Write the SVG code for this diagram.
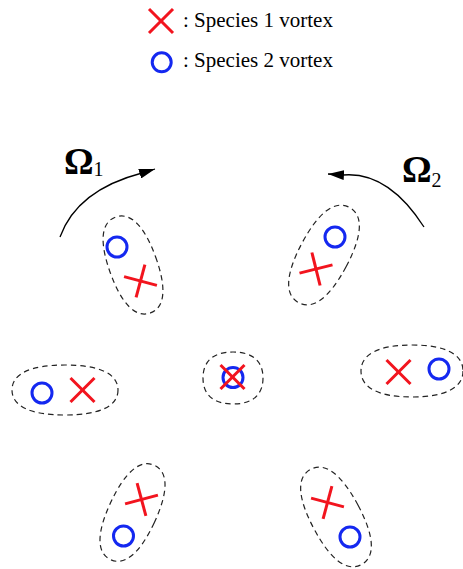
<svg xmlns="http://www.w3.org/2000/svg" width="463" height="569" viewBox="0 0 463 569">
<style>
.t{font-family:"Liberation Serif","Times New Roman",serif;fill:#000}
.w{font-weight:bold}
.x{stroke:#f2141e;stroke-width:3;fill:none}
.o{stroke:#1428f0;stroke-width:3;fill:none}
.d{stroke:#222;stroke-width:1.2;fill:none;stroke-dasharray:5.5 4}
.a{stroke:#000;stroke-width:1.3;fill:none}
</style>
<defs>
<marker id="ah" markerUnits="userSpaceOnUse" viewBox="0 0 16 10" refX="16" refY="5" markerWidth="16" markerHeight="10" orient="auto">
<path d="M0,0 L16,5 L0,10 Z" fill="#000"/>
</marker>
<g id="cross"><line x1="-17" y1="0" x2="17" y2="0"/><line x1="0" y1="-17" x2="0" y2="17"/></g>
</defs>
<rect width="463" height="569" fill="#fff"/>
<g id="legend">
<g class="x" transform="translate(161,21) rotate(45)"><use href="#cross"/></g>
<text class="t" x="183" y="27" font-size="21">: Species 1 vortex</text>
<circle class="o" cx="161.7" cy="62.3" r="9.5"/>
<text class="t" x="183" y="66.5" font-size="21">: Species 2 vortex</text>
</g>
<g id="connectors">
<path class="a" d="M60,237 Q77,190 142,173 L155,169" marker-end="url(#ah)"/>
<path class="a" d="M424,227 Q388,171 343,175 L328,174" marker-end="url(#ah)"/>
</g>
<g id="omega1"><text class="t w" x="64" y="173.5" font-size="37">Ω</text><text class="t" x="93.5" y="176" font-size="20">1</text></g>
<g id="omega2"><text class="t w" x="402" y="181.5" font-size="37">Ω</text><text class="t" x="431.5" y="186.5" font-size="20">2</text></g>
<g id="pair-top-left">
<path class="d" transform="translate(133,265) rotate(-20)" d="M24,0 C24,33.2 15.6,51 0,51 C-15.6,51 -24,33.2 -24,0 C-24,-33.2 -15.6,-51 0,-51 C15.6,-51 24,-33.2 24,0 Z"/>
<circle class="o" cx="117" cy="247" r="10"/>
<g class="x" transform="translate(140.5,281) rotate(15)"><use href="#cross"/></g>
</g>
<g id="pair-top-right">
<path class="d" transform="translate(324,255) rotate(28)" d="M25,0 C25,35.1 16.3,54 0,54 C-16.3,54 -25,35.1 -25,0 C-25,-35.1 -16.3,-54 0,-54 C16.3,-54 25,-35.1 25,0 Z"/>
<circle class="o" cx="335" cy="237" r="10"/>
<g class="x" transform="translate(316,269) rotate(-14)"><use href="#cross"/></g>
</g>
<g id="pair-left">
<path class="d" transform="translate(65,390)" d="M53,0 C53,16.3 34.5,25 0,25 C-34.5,25 -53,16.3 -53,0 C-53,-16.3 -34.5,-25 0,-25 C34.5,-25 53,-16.3 53,0 Z"/>
<circle class="o" cx="42" cy="393" r="10"/>
<g class="x" transform="translate(82.5,390) rotate(45)"><use href="#cross"/></g>
</g>
<g id="pair-center">
<path class="d" transform="translate(233,378)" d="M30,0 C30,16.9 19.5,26 0,26 C-19.5,26 -30,16.9 -30,0 C-30,-16.9 -19.5,-26 0,-26 C19.5,-26 30,-16.9 30,0 Z"/>
<circle class="o" cx="233" cy="377.5" r="10"/>
<g class="x" transform="translate(232.5,377) rotate(45)"><use href="#cross"/></g>
</g>
<g id="pair-right">
<path class="d" transform="translate(412,371)" d="M51,0 C51,16.9 33.2,26 0,26 C-33.2,26 -51,16.9 -51,0 C-51,-16.9 -33.2,-26 0,-26 C33.2,-26 51,-16.9 51,0 Z"/>
<circle class="o" cx="439" cy="369" r="10"/>
<g class="x" transform="translate(398.5,372) rotate(45)"><use href="#cross"/></g>
</g>
<g id="pair-bottom-left">
<path class="d" transform="translate(132.5,512.5) rotate(25)" d="M24,0 C24,33.8 15.6,52 0,52 C-15.6,52 -24,33.8 -24,0 C-24,-33.8 -15.6,-52 0,-52 C15.6,-52 24,-33.8 24,0 Z"/>
<circle class="o" cx="123.5" cy="536" r="10"/>
<g class="x" transform="translate(141.5,499.5) rotate(-15)"><use href="#cross"/></g>
</g>
<g id="pair-bottom-right">
<path class="d" transform="translate(336,517) rotate(-28)" d="M25,0 C25,35.1 16.3,54 0,54 C-16.3,54 -25,35.1 -25,0 C-25,-35.1 -16.3,-54 0,-54 C16.3,-54 25,-35.1 25,0 Z"/>
<circle class="o" cx="350" cy="537" r="10"/>
<g class="x" transform="translate(327.5,502.5) rotate(15)"><use href="#cross"/></g>
</g>
</svg>
